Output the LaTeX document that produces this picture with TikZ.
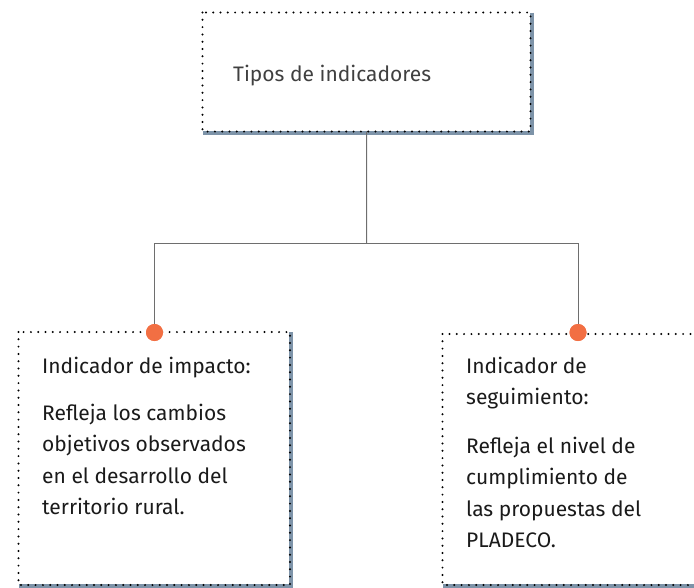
\documentclass[tikz,border=0pt]{standalone}
\usepackage{fontspec}
\setmainfont{Fira Sans}
\definecolor{shadowc}{HTML}{7D93A8}
\definecolor{pinc}{HTML}{F26F43}
\definecolor{titlec}{HTML}{404040}
\definecolor{bodyc}{HTML}{1A1A1A}
\definecolor{connc}{HTML}{6E6E6E}
\tikzset{
  dotborder/.style={line width=2.2pt, dash pattern=on 0pt off 7.3pt, line cap=round, black},
  shadowline/.style={line width=4pt, shadowc},
  conn/.style={line width=1pt, connc},
  pinnode/.style={circle, fill=pinc, minimum size=17pt, inner sep=0pt},
  boxnode/.style={rectangle, inner sep=0pt, outer sep=0pt, anchor=north west},
  txt/.style={anchor=base west, inner sep=0pt, font=\fontsize{21}{31.5}\selectfont, align=left},
}
\begin{document}
\begin{tikzpicture}[x=1pt,y=-1pt]
\useasboundingbox (0,0) rectangle (694,587);
% boxes
\node[boxnode, minimum width=328pt, minimum height=119pt] (top) at (202.5,12.5) {};
\node[boxnode, minimum width=271.5pt, minimum height=253pt] (left) at (18.5,332) {};
\node[boxnode, minimum width=300pt, minimum height=251pt] (right) at (442.5,334) {};
% shadows
\foreach \b in {top,left,right}{
  \draw[shadowline] ([xshift=1pt]\b.north east) -- ([xshift=1pt,yshift=-1pt]\b.south east) -- ([yshift=-1pt]\b.south west);
}
% dotted borders
\foreach \b in {top,left,right}{
  \draw[dotborder] (\b.north west) rectangle (\b.south east);
}
% connectors
\coordinate (junction) at (366.7,243);
\node[pinnode] (pinL) at (154.5,332.5) {};
\node[pinnode] (pinR) at (578,332.5) {};
\draw[conn] (top.south) -- (junction);
\draw[conn] (pinL.center) -- (pinL.center |- junction) -- (pinR.center |- junction) -- (pinR.center);
\node[pinnode] at (pinL) {};
\node[pinnode] at (pinR) {};
% texts (base anchor = baseline of the last line)
\node[txt, text=titlec] (title) at (233,81) {Tipos de indicadores};
\node[txt, text=bodyc] (lhead) at (42,373) {Indicador de impacto:};
\node[txt, text=bodyc] (lbody) at (42,514.5) {Refleja los cambios\\objetivos observados\\en el desarrollo del\\territorio rural.};
\node[txt, text=bodyc] (rhead) at (466,404.5) {Indicador de\\seguimiento:};
\node[txt, text=bodyc] (rbody) at (466,547.5) {Refleja el nivel de\\cumplimiento de\\las propuestas del\\PLADECO.};
\end{tikzpicture}
\end{document}
